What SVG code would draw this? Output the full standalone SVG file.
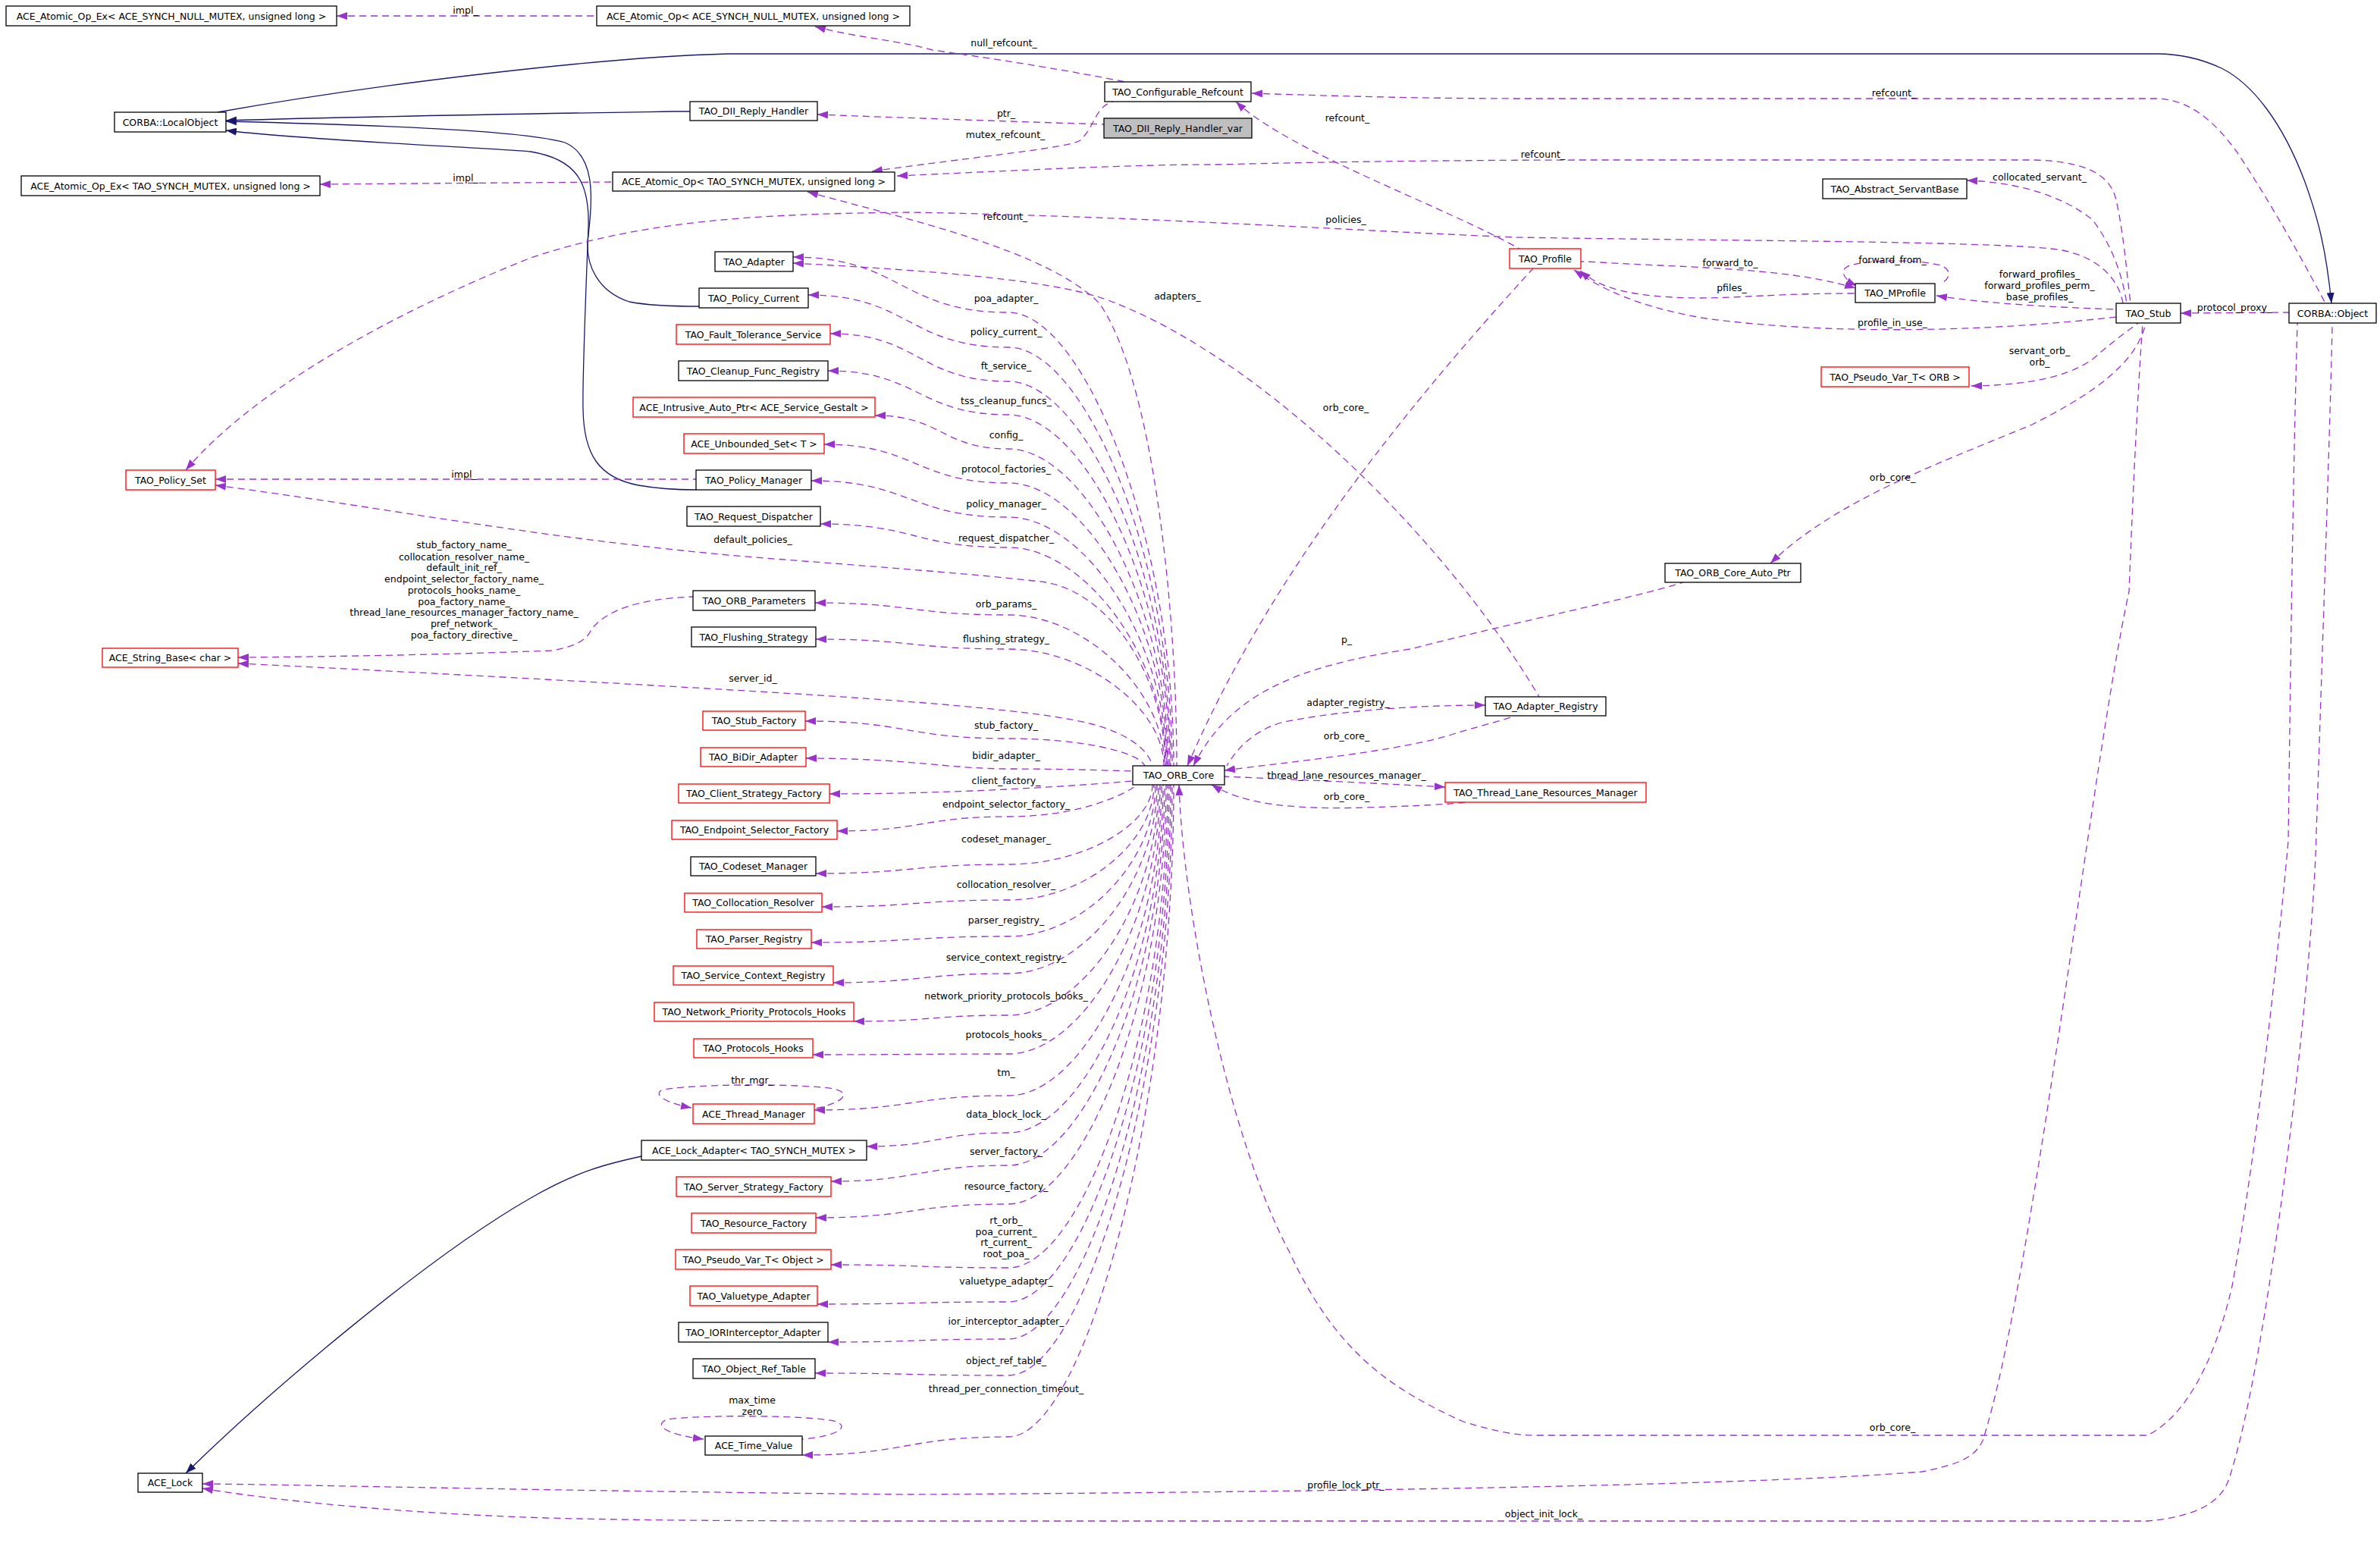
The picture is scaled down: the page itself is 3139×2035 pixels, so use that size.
<svg xmlns="http://www.w3.org/2000/svg" width="3139" height="2035" viewBox="0 0 3139 2035">
<defs>
<style>
text{font-family:'DejaVu Sans','Liberation Sans',sans-serif;font-size:12.5px;fill:#000}
.n rect{fill:#fff;stroke:#000;stroke-width:1.3}
.r rect{stroke:#f00}
.g rect{fill:#bfbfbf}
.n text,.lb text{text-anchor:middle}
.e path{fill:none;stroke:#9a32cd;stroke-width:1.3;stroke-dasharray:9,6;marker-start:url(#ap)}
.i path{fill:none;stroke:#191970;stroke-width:1.3;marker-start:url(#an)}
</style>
<marker id="ap" markerUnits="userSpaceOnUse" markerWidth="14" markerHeight="11" viewBox="0 0 14 11" refX="14" refY="5.5" orient="auto-start-reverse"><path d="M0,0.5 L14,5.5 L0,10.5 z" fill="#9a32cd"/></marker>
<marker id="an" markerUnits="userSpaceOnUse" markerWidth="14" markerHeight="11" viewBox="0 0 14 11" refX="14" refY="5.5" orient="auto-start-reverse"><path d="M0,0.5 L14,5.5 L0,10.5 z" fill="#191970"/></marker>
</defs>
<rect width="3139" height="2035" fill="#fff"/>

<g id="connectors">
<g class="i">
<path d="M298,159 C500,153 700,150 888,147 L910,147"/>
<path d="M298,160 C500,165 690,172 745,188 C785,205 782,260 776,310 C770,350 790,385 830,398 C860,404 900,404 922,404"/>
<path d="M298,172 C400,185 650,195 700,200 C760,210 778,240 776,300 C772,400 768,500 769,540 C770,600 790,630 842,640 C870,645 900,646 918,646"/>
<path d="M3075,400 C3068,330 3058,290 3040,240 C3010,160 2970,110 2930,90 C2900,76 2870,71 2845,71 L960,71 C800,75 500,110 287,148"/>
<path d="M245,1943 C350,1840 560,1660 700,1580 C760,1545 800,1535 846,1525"/>
</g>
<g class="e">
<path d="M444,21 L787,21"/>
<path d="M1075,35 C1130,50 1180,52 1230,66 C1330,80 1420,95 1484,108"/>
<path d="M1078,151 C1180,155 1360,161 1456,164"/>
<path d="M1150,226 C1300,205 1410,195 1425,185 C1445,165 1445,140 1468,134"/>
<path d="M422,243 L808,240"/>
<path d="M1183,232 C1400,222 1500,217 1608,217 C1800,212 2000,211 2103,211 L2684,211 C2740,213 2780,225 2790,260 C2800,300 2805,360 2810,400"/>
<path d="M1065,253 C1200,290 1380,330 1450,400 C1520,500 1552,800 1552,1010"/>
<path d="M1651,123 C1800,128 1900,130 2016,130 L2845,130 C2890,132 2920,160 2950,200 C2990,260 3030,330 3067,400"/>
<path d="M1630,134 C1700,200 1900,270 2004,328"/>
<path d="M2594,238 C2660,240 2720,258 2760,290 C2790,330 2800,370 2805,400"/>
<path d="M245,620 C330,520 500,420 700,340 C850,290 1000,282 1200,280 C1500,285 1800,305 2000,313 C2300,318 2650,318 2720,330 C2770,340 2795,370 2800,400"/>
<path d="M1046,347 C1250,358 1380,370 1450,392 C1650,460 1900,700 2030,919"/>
<path d="M2447,380 C2380,360 2300,355 2189,350 C2140,348 2100,345 2085,345"/>
<path d="M2084,357 C2110,380 2150,392 2239,393 C2300,393 2340,387 2447,387"/>
<path d="M2449,377 C2430,368 2425,355 2440,350 C2470,342 2530,342 2560,350 C2575,356 2572,368 2560,374"/>
<path d="M2554,390 C2620,400 2700,405 2791,408"/>
<path d="M2076,356 C2110,380 2160,405 2250,420 C2400,440 2600,440 2791,418"/>
<path d="M2600,509 C2680,508 2740,495 2770,465 C2800,440 2815,430 2820,426"/>
<path d="M2335,743 C2420,660 2560,610 2680,560 C2780,510 2820,470 2830,426"/>
<path d="M2876,413 L3019,412"/>
<path d="M1566,1010 C1640,840 1760,640 2022,354"/>
<path d="M1574,1010 C1620,920 1700,880 1860,856 C2000,820 2150,790 2220,768"/>
<path d="M1959,930 C1850,930 1750,940 1690,953 C1650,965 1630,990 1618,1010"/>
<path d="M1615,1016 C1700,1005 1850,990 1917,968 C1960,955 1990,948 1997,944"/>
<path d="M1906,1038 C1800,1032 1700,1028 1615,1024"/>
<path d="M1598,1035 C1640,1060 1700,1068 1802,1065 C1870,1063 1920,1060 1934,1058"/>
<path d="M267,1957 C400,1958 700,1966 1200,1971 C1700,1968 2300,1960 2535,1941 C2590,1930 2605,1920 2615,1900 C2680,1700 2760,1000 2808,780 C2815,600 2822,480 2826,426"/>
<path d="M267,1963 C400,1985 600,2000 765,2003 C900,2006 1100,2006 1200,2006 L2832,2006 C2900,2000 2930,1980 2940,1950 C2990,1800 3050,1300 3055,1100 C3065,800 3075,500 3076,426"/>
<path d="M1555,1035 C1560,1200 1620,1500 1700,1650 C1760,1780 1830,1830 1930,1875 C1980,1890 2000,1893 2029,1893 L2832,1893 C2880,1870 2920,1800 2944,1696 C2980,1500 3010,1200 3018,1109 C3022,800 3025,600 3030,426"/>
<path d="M284,632 L918,632"/>
<path d="M284,640 C500,668 720,712 995,735 C1150,747 1300,758 1380,768 C1470,785 1537,900 1537,1010"/>
<path d="M314,867 C450,866 600,863 727,858 C760,853 775,843 780,830 C800,805 840,790 914,787"/>
<path d="M314,875 C500,884 800,900 1000,912 C1200,924 1380,938 1440,955 C1490,968 1515,990 1520,1010"/>
<path d="M1046,339 C1188,339 1188,412 1330,412 C1430,412 1548,711 1548,1010"/>
<path d="M1066,389 C1198,389 1198,458 1330,458 C1430,458 1546,734 1546,1010"/>
<path d="M1095,440 C1212,440 1212,503 1330,503 C1430,503 1544,756 1544,1010"/>
<path d="M1092,489 C1211,489 1211,547 1330,547 C1430,547 1543,778 1543,1010"/>
<path d="M1154,548 C1242,548 1242,592 1330,592 C1430,592 1541,801 1541,1010"/>
<path d="M1087,586 C1208,586 1208,637 1330,637 C1430,637 1540,823 1540,1010"/>
<path d="M1070,634 C1200,634 1200,682 1330,682 C1430,682 1539,846 1539,1010"/>
<path d="M1082,691 C1206,691 1206,722 1330,722 C1430,722 1538,866 1538,1010"/>
<path d="M1075,795 C1202,795 1202,811 1330,811 C1430,811 1536,910 1536,1010"/>
<path d="M1076,843 C1203,843 1203,856 1330,856 C1430,856 1535,933 1535,1010"/>
<path d="M1062,951 C1196,951 1196,974 1330,974 C1420,974 1500,990 1510,1010"/>
<path d="M1063,1000 C1200,1000 1250,1014 1330,1014 C1400,1014 1460,1016 1494,1017"/>
<path d="M1094,1047 C1250,1047 1400,1038 1494,1030"/>
<path d="M1104,1096 C1217,1096 1217,1077 1330,1077 C1420,1077 1480,1050 1500,1035"/>
<path d="M1076,1152 C1203,1152 1203,1140 1330,1140 C1430,1140 1520,1087 1520,1035"/>
<path d="M1084,1196 C1207,1196 1207,1187 1330,1187 C1430,1187 1522,1111 1522,1035"/>
<path d="M1070,1243 C1200,1243 1200,1235 1330,1235 C1430,1235 1524,1135 1524,1035"/>
<path d="M1099,1296 C1214,1296 1214,1284 1330,1284 C1430,1284 1526,1159 1526,1035"/>
<path d="M1126,1347 C1228,1347 1228,1339 1330,1339 C1430,1339 1528,1187 1528,1035"/>
<path d="M1072,1391 C1201,1391 1201,1390 1330,1390 C1430,1390 1530,1212 1530,1035"/>
<path d="M1074,1464 C1202,1464 1202,1445 1330,1445 C1430,1445 1532,1240 1532,1035"/>
<path d="M1143,1512 C1236,1512 1236,1494 1330,1494 C1430,1494 1534,1264 1534,1035"/>
<path d="M1096,1558 C1213,1558 1213,1537 1330,1537 C1430,1537 1536,1286 1536,1035"/>
<path d="M1076,1606 C1203,1606 1203,1588 1330,1588 C1430,1588 1538,1311 1538,1035"/>
<path d="M1096,1668 C1213,1668 1213,1672 1330,1672 C1430,1672 1540,1353 1540,1035"/>
<path d="M1078,1720 C1204,1720 1204,1717 1330,1717 C1430,1717 1542,1376 1542,1035"/>
<path d="M1092,1770 C1211,1770 1211,1766 1330,1766 C1430,1766 1544,1400 1544,1035"/>
<path d="M1075,1811 C1202,1811 1202,1814 1330,1814 C1430,1814 1546,1424 1546,1035"/>
<path d="M1058,1919 C1194,1919 1194,1895 1330,1895 C1430,1895 1548,1465 1548,1035"/>
<path d="M912,1461 C880,1455 862,1445 872,1438 C900,1430 1050,1428 1100,1436 C1125,1442 1110,1455 1075,1462"/>
<path d="M928,1898 C880,1892 860,1880 880,1872 C920,1866 1060,1866 1100,1874 C1125,1882 1100,1895 1058,1898"/>
</g>
<g class="lb">
<text x="614" y="18">impl_</text>
<text x="1324" y="61">null_refcount_</text>
<text x="1327" y="154">ptr_</text>
<text x="1326" y="182">mutex_refcount_</text>
<text x="614" y="239">impl_</text>
<text x="2035" y="208">refcount_</text>
<text x="1326" y="290">refcount_</text>
<text x="2498" y="127">refcount_</text>
<text x="1777" y="160">refcount_</text>
<text x="2690" y="238">collocated_servant_</text>
<text x="1775" y="294">policies_</text>
<text x="1553" y="395">adapters_</text>
<text x="2282" y="351">forward_to_</text>
<text x="2284" y="384">pfiles_</text>
<text x="2496" y="347">forward_from_</text>
<text x="2690" y="366">forward_profiles_</text>
<text x="2690" y="381">forward_profiles_perm_</text>
<text x="2690" y="396">base_profiles_</text>
<text x="2496" y="430">profile_in_use_</text>
<text x="2947" y="410">protocol_proxy_</text>
<text x="2690" y="467">servant_orb_</text>
<text x="2690" y="482">orb_</text>
<text x="2496" y="634">orb_core_</text>
<text x="1775" y="542">orb_core_</text>
<text x="1776" y="848">p_</text>
<text x="1778" y="931">adapter_registry_</text>
<text x="1776" y="975">orb_core_</text>
<text x="1776" y="1027">thread_lane_resources_manager_</text>
<text x="1776" y="1055">orb_core_</text>
<text x="2496" y="1887">orb_core_</text>
<text x="1775" y="1963">profile_lock_ptr_</text>
<text x="2036" y="2001">object_init_lock_</text>
<text x="612" y="630">impl_</text>
<text x="993" y="716">default_policies_</text>
<text x="993" y="899">server_id_</text>
<text x="612" y="723">stub_factory_name_</text>
<text x="612" y="739">collocation_resolver_name_</text>
<text x="612" y="753">default_init_ref_</text>
<text x="612" y="768">endpoint_selector_factory_name_</text>
<text x="612" y="783">protocols_hooks_name_</text>
<text x="612" y="798">poa_factory_name_</text>
<text x="612" y="812">thread_lane_resources_manager_factory_name_</text>
<text x="612" y="827">pref_network_</text>
<text x="612" y="842">poa_factory_directive_</text>
<text x="1327" y="398">poa_adapter_</text>
<text x="1327" y="442">policy_current_</text>
<text x="1327" y="487">ft_service_</text>
<text x="1327" y="533">tss_cleanup_funcs_</text>
<text x="1327" y="578">config_</text>
<text x="1327" y="623">protocol_factories_</text>
<text x="1327" y="669">policy_manager_</text>
<text x="1327" y="714">request_dispatcher_</text>
<text x="1327" y="801">orb_params_</text>
<text x="1327" y="847">flushing_strategy_</text>
<text x="1327" y="961">stub_factory_</text>
<text x="1327" y="1001">bidir_adapter_</text>
<text x="1327" y="1034">client_factory_</text>
<text x="1327" y="1065">endpoint_selector_factory_</text>
<text x="1327" y="1111">codeset_manager_</text>
<text x="1327" y="1171">collocation_resolver_</text>
<text x="1327" y="1218">parser_registry_</text>
<text x="1327" y="1267">service_context_registry_</text>
<text x="1327" y="1318">network_priority_protocols_hooks_</text>
<text x="1327" y="1369">protocols_hooks_</text>
<text x="1327" y="1419">tm_</text>
<text x="1327" y="1474">data_block_lock_</text>
<text x="1327" y="1523">server_factory_</text>
<text x="1327" y="1569">resource_factory_</text>
<text x="1327" y="1614">rt_orb_</text>
<text x="1327" y="1629">poa_current_</text>
<text x="1327" y="1643">rt_current_</text>
<text x="1327" y="1658">root_poa_</text>
<text x="1327" y="1694">valuetype_adapter_</text>
<text x="1327" y="1747">ior_interceptor_adapter_</text>
<text x="1327" y="1799">object_ref_table_</text>
<text x="1327" y="1836">thread_per_connection_timeout_</text>
<text x="992" y="1429">thr_mgr_</text>
<text x="992" y="1851">max_time</text>
<text x="992" y="1866">zero</text>
</g>
</g>

<g id="n1" class="n"><rect x="8" y="8" width="436" height="26"/><text x="226" y="25.5">ACE_Atomic_Op_Ex&lt; ACE_SYNCH_NULL_MUTEX, unsigned long &gt;</text></g>
<g id="n2" class="n"><rect x="787" y="8" width="413" height="26"/><text x="993.5" y="25.5">ACE_Atomic_Op&lt; ACE_SYNCH_NULL_MUTEX, unsigned long &gt;</text></g>
<g id="n3" class="n"><rect x="151" y="148" width="147" height="26"/><text x="224.5" y="165.5">CORBA::LocalObject</text></g>
<g id="n4" class="n"><rect x="910" y="134" width="168" height="25"/><text x="994" y="151">TAO_DII_Reply_Handler</text></g>
<g id="n5" class="n g"><rect x="1456" y="156" width="195" height="26"/><text x="1553.5" y="173.5">TAO_DII_Reply_Handler_var</text></g>
<g id="n6" class="n"><rect x="1457" y="108" width="193" height="26"/><text x="1553.5" y="125.5">TAO_Configurable_Refcount</text></g>
<g id="n7" class="n"><rect x="28" y="232" width="394" height="26"/><text x="225" y="249.5">ACE_Atomic_Op_Ex&lt; TAO_SYNCH_MUTEX, unsigned long &gt;</text></g>
<g id="n8" class="n"><rect x="808" y="227" width="372" height="25"/><text x="994" y="244">ACE_Atomic_Op&lt; TAO_SYNCH_MUTEX, unsigned long &gt;</text></g>
<g id="n9" class="n"><rect x="2404" y="236" width="190" height="26"/><text x="2499" y="253.5">TAO_Abstract_ServantBase</text></g>
<g id="n10" class="n"><rect x="943" y="332" width="103" height="26"/><text x="994.5" y="349.5">TAO_Adapter</text></g>
<g id="n11" class="n"><rect x="922" y="380" width="144" height="26"/><text x="994" y="397.5">TAO_Policy_Current</text></g>
<g id="n12" class="n r"><rect x="892" y="428" width="203" height="26"/><text x="993.5" y="445.5">TAO_Fault_Tolerance_Service</text></g>
<g id="n13" class="n"><rect x="895" y="476" width="197" height="26"/><text x="993.5" y="493.5">TAO_Cleanup_Func_Registry</text></g>
<g id="n14" class="n r"><rect x="835" y="524" width="319" height="26"/><text x="994.5" y="541.5">ACE_Intrusive_Auto_Ptr&lt; ACE_Service_Gestalt &gt;</text></g>
<g id="n15" class="n r"><rect x="902" y="572" width="185" height="26"/><text x="994.5" y="589.5">ACE_Unbounded_Set&lt; T &gt;</text></g>
<g id="n16" class="n r"><rect x="166" y="620" width="118" height="26"/><text x="225" y="637.5">TAO_Policy_Set</text></g>
<g id="n17" class="n"><rect x="918" y="620" width="152" height="26"/><text x="994" y="637.5">TAO_Policy_Manager</text></g>
<g id="n18" class="n"><rect x="906" y="668" width="176" height="26"/><text x="994" y="685.5">TAO_Request_Dispatcher</text></g>
<g id="n19" class="n"><rect x="914" y="779" width="161" height="26"/><text x="994.5" y="796.5">TAO_ORB_Parameters</text></g>
<g id="n20" class="n"><rect x="912" y="827" width="164" height="26"/><text x="994" y="844.5">TAO_Flushing_Strategy</text></g>
<g id="n21" class="n r"><rect x="135" y="855" width="179" height="25"/><text x="224.5" y="872">ACE_String_Base&lt; char &gt;</text></g>
<g id="n22" class="n r"><rect x="927" y="938" width="135" height="25"/><text x="994.5" y="955">TAO_Stub_Factory</text></g>
<g id="n23" class="n r"><rect x="924" y="986" width="139" height="25"/><text x="993.5" y="1003">TAO_BiDir_Adapter</text></g>
<g id="n24" class="n r"><rect x="895" y="1034" width="199" height="25"/><text x="994.5" y="1051">TAO_Client_Strategy_Factory</text></g>
<g id="n25" class="n r"><rect x="886" y="1082" width="218" height="25"/><text x="995" y="1099">TAO_Endpoint_Selector_Factory</text></g>
<g id="n26" class="n"><rect x="911" y="1130" width="165" height="25"/><text x="993.5" y="1147">TAO_Codeset_Manager</text></g>
<g id="n27" class="n r"><rect x="903" y="1178" width="181" height="25"/><text x="993.5" y="1195">TAO_Collocation_Resolver</text></g>
<g id="n28" class="n r"><rect x="919" y="1226" width="151" height="25"/><text x="994.5" y="1243">TAO_Parser_Registry</text></g>
<g id="n29" class="n r"><rect x="888" y="1274" width="211" height="25"/><text x="993.5" y="1291">TAO_Service_Context_Registry</text></g>
<g id="n30" class="n r"><rect x="863" y="1322" width="263" height="25"/><text x="994.5" y="1339">TAO_Network_Priority_Protocols_Hooks</text></g>
<g id="n31" class="n r"><rect x="915" y="1370" width="157" height="25"/><text x="993.5" y="1387">TAO_Protocols_Hooks</text></g>
<g id="n32" class="n r"><rect x="914" y="1456" width="160" height="26"/><text x="994" y="1473.5">ACE_Thread_Manager</text></g>
<g id="n33" class="n"><rect x="846" y="1504" width="297" height="26"/><text x="994.5" y="1521.5">ACE_Lock_Adapter&lt; TAO_SYNCH_MUTEX &gt;</text></g>
<g id="n34" class="n r"><rect x="892" y="1552" width="204" height="26"/><text x="994" y="1569.5">TAO_Server_Strategy_Factory</text></g>
<g id="n35" class="n r"><rect x="912" y="1600" width="164" height="26"/><text x="994" y="1617.5">TAO_Resource_Factory</text></g>
<g id="n36" class="n r"><rect x="891" y="1648" width="205" height="26"/><text x="993.5" y="1665.5">TAO_Pseudo_Var_T&lt; Object &gt;</text></g>
<g id="n37" class="n r"><rect x="910" y="1696" width="168" height="26"/><text x="994" y="1713.5">TAO_Valuetype_Adapter</text></g>
<g id="n38" class="n"><rect x="895" y="1744" width="197" height="26"/><text x="993.5" y="1761.5">TAO_IORInterceptor_Adapter</text></g>
<g id="n39" class="n"><rect x="914" y="1792" width="161" height="26"/><text x="994.5" y="1809.5">TAO_Object_Ref_Table</text></g>
<g id="n40" class="n"><rect x="930" y="1894" width="128" height="25"/><text x="994" y="1911">ACE_Time_Value</text></g>
<g id="n41" class="n"><rect x="182" y="1943" width="85" height="25"/><text x="224.5" y="1960">ACE_Lock</text></g>
<g id="n42" class="n"><rect x="1494" y="1010" width="121" height="25"/><text x="1554.5" y="1027">TAO_ORB_Core</text></g>
<g id="n43" class="n"><rect x="1959" y="919" width="159" height="25"/><text x="2038.5" y="936">TAO_Adapter_Registry</text></g>
<g id="n44" class="n r"><rect x="1906" y="1032" width="265" height="26"/><text x="2038.5" y="1049.5">TAO_Thread_Lane_Resources_Manager</text></g>
<g id="n45" class="n"><rect x="2196" y="743" width="179" height="25"/><text x="2285.5" y="760">TAO_ORB_Core_Auto_Ptr</text></g>
<g id="n46" class="n r"><rect x="1991" y="328" width="94" height="26"/><text x="2038" y="345.5">TAO_Profile</text></g>
<g id="n47" class="n"><rect x="2447" y="374" width="105" height="25"/><text x="2499.5" y="391">TAO_MProfile</text></g>
<g id="n48" class="n"><rect x="2791" y="400" width="85" height="26"/><text x="2833.5" y="417.5">TAO_Stub</text></g>
<g id="n49" class="n"><rect x="3019" y="400" width="115" height="26"/><text x="3076.5" y="417.5">CORBA::Object</text></g>
<g id="n50" class="n r"><rect x="2402" y="484" width="195" height="26"/><text x="2499.5" y="501.5">TAO_Pseudo_Var_T&lt; ORB &gt;</text></g>
</svg>
